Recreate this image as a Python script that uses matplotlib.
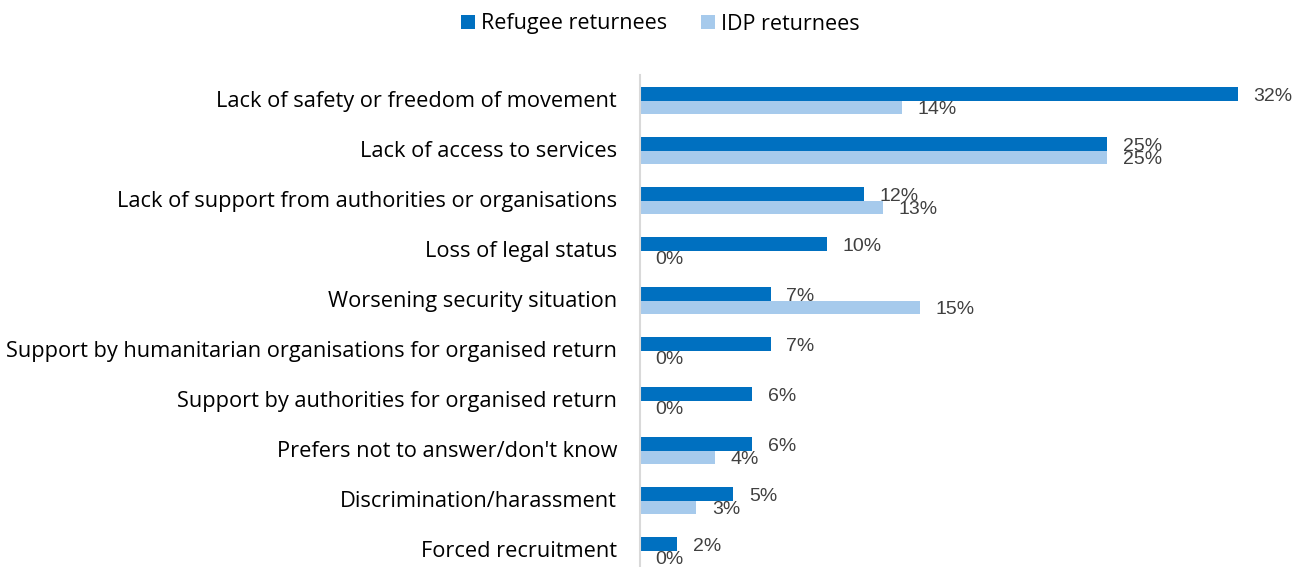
import numpy as np
import matplotlib
matplotlib.use("Agg")
import matplotlib.pyplot as plt
from matplotlib.transforms import ScaledTranslation

# reasons given for return, share of respondents (%)
categories = [
    "Lack of safety or freedom of movement",
    "Lack of access to services",
    "Lack of support from authorities or organisations",
    "Loss of legal status",
    "Worsening security situation",
    "Support by humanitarian organisations for organised return",
    "Support by authorities for organised return",
    "Prefers not to answer/don't know",
    "Discrimination/harassment",
    "Forced recruitment",
]
refugee = [32, 25, 12, 10, 7, 7, 6, 6, 5, 2]
idp = [14, 25, 13, 0, 15, 0, 0, 4, 3, 0]
series_names = ["Refugee returnees", "IDP returnees"]

dark_blue = "#0070c0"
light_blue = "#a6caec"
label_font = ["Open Sans", "DejaVu Sans"]

W, H = 1304, 567
fig = plt.figure(figsize=(W / 100, H / 100), dpi=100)
ax = fig.add_axes([640 / W, 0, 654 / W, 1 - 75 / H])

y = np.arange(len(categories))
h = 0.267
b1 = ax.barh(y - h / 2, refugee, height=h, color=dark_blue, label=series_names[0])
b2 = ax.barh(y + h / 2, idp, height=h, color=light_blue, label=series_names[1])

# value labels just past the bar ends
for bars, vals in ((b1, refugee), (b2, idp)):
    for bar, v in zip(bars, vals):
        ax.annotate(f"{v}%", (bar.get_width(), bar.get_y() + bar.get_height() / 2),
                    xytext=(11.3, -1.8), textcoords="offset points",
                    ha="left", va="center", fontsize=14,
                    family="Liberation Sans", color="#404040")

ax.set_xlim(0, 35)
ax.set_ylim(9.326, -0.513)
ax.set_yticks(y)
ax.set_yticklabels(categories, family=label_font, fontsize=15.65, color="#000000")
ax.tick_params(axis="y", length=0, pad=16.5)
# nudge category labels up a little
shift = ScaledTranslation(0, 2 / 100, fig.dpi_scale_trans)
for lab in ax.get_yticklabels():
    lab.set_transform(lab.get_transform() + shift)
ax.set_xticks([])
for side in ("top", "right", "bottom"):
    ax.spines[side].set_visible(False)
ax.spines["left"].set_color("#d9d9d9")
ax.spines["left"].set_linewidth(1.5)

fig.legend(handles=[b1, b2], loc="center", bbox_to_anchor=(660.5 / W, 1 - 24 / H),
           ncol=2, frameon=False, prop={"family": label_font, "size": 15.5},
           handlelength=0.65, handleheight=0.65, handletextpad=0.28,
           columnspacing=1.58, borderpad=0)

fig.savefig("out.png", dpi=100)
